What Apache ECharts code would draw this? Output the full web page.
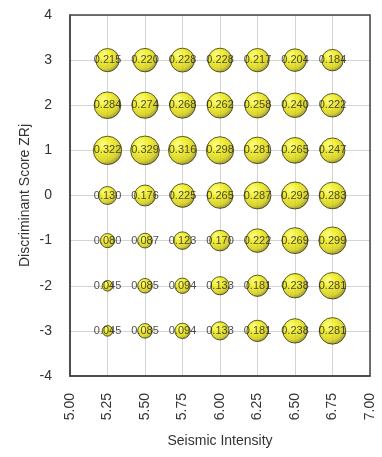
<!DOCTYPE html>
<html>
<head>
<meta charset="utf-8">
<script src="https://cdn.jsdelivr.net/npm/echarts@6/dist/echarts.min.js"></script>
<style>
  html, body { margin: 0; padding: 0; background: #fff; }
  #chart { width: 382px; height: 457px; }
</style>
</head>
<body>
<div id="chart"></div>
<script>
// Seismic intensity columns and discriminant score rows
const intensities = [5.25, 5.5, 5.75, 6.0, 6.25, 6.5, 6.75];
const scores = [3, 2, 1, 0, -1, -2, -3];

// Probability values, one array per discriminant score row
const row3 = [0.215, 0.220, 0.228, 0.228, 0.217, 0.204, 0.184];
const row2 = [0.284, 0.274, 0.268, 0.262, 0.258, 0.240, 0.222];
const row1 = [0.322, 0.329, 0.316, 0.298, 0.281, 0.265, 0.247];
const row0 = [0.130, 0.176, 0.225, 0.265, 0.287, 0.292, 0.283];
const rowM1 = [0.080, 0.087, 0.123, 0.170, 0.222, 0.269, 0.299];
const rowM2 = [0.045, 0.085, 0.094, 0.133, 0.181, 0.238, 0.281];
const rowM3 = [0.045, 0.085, 0.094, 0.133, 0.181, 0.238, 0.281];

const rows = [row3, row2, row1, row0, rowM1, rowM2, rowM3];

const points = [];
rows.forEach((vals, r) => {
  vals.forEach((v, c) => points.push([intensities[c], scores[r], v]));
});

const chart = echarts.init(document.getElementById('chart'));
const font = 'Liberation Sans, Arial, sans-serif';

chart.setOption({
  animation: false,
  grid: { left: 70, right: 12, top: 15, bottom: 81 },
  xAxis: {
    type: 'value', min: 5, max: 7, interval: 0.25,
    name: 'Seismic Intensity', nameLocation: 'middle', nameGap: 58,
    nameMoveOverlap: false,
    nameTextStyle: { fontFamily: font, fontSize: 14, color: '#333' },
    axisLine: { show: true, onZero: false, lineStyle: { color: '#444', width: 1.5 } },
    axisTick: { show: false },
    axisLabel: {
      rotate: 90, fontFamily: font, fontSize: 14, color: '#333', margin: 17,
      formatter: v => v.toFixed(2)
    },
    splitLine: { show: true, lineStyle: { color: '#d4d4d4', width: 1 } }
  },
  yAxis: {
    type: 'value', min: -4, max: 4, interval: 1,
    name: 'Discriminant Score ZRj', nameLocation: 'middle', nameGap: 38,
    nameMoveOverlap: false,
    nameTextStyle: { fontFamily: font, fontSize: 14, color: '#333' },
    axisLine: { show: true, onZero: false, lineStyle: { color: '#444', width: 1.5 } },
    axisTick: { show: false },
    axisLabel: { fontFamily: font, fontSize: 14, color: '#333', margin: 18 },
    splitLine: { show: true, lineStyle: { color: '#d4d4d4', width: 1 } }
  },
  graphic: [{
    type: 'rect', silent: true, z: 10,
    shape: { x: 70, y: 15, width: 300, height: 361 },
    style: { fill: 'none', stroke: '#444', lineWidth: 1.5 }
  }],
  series: [{
    type: 'scatter',
    data: points,
    symbolSize: d => 50 * Math.sqrt(d[2]),
    itemStyle: {
      color: new echarts.graphic.RadialGradient(0.36, 0.3, 0.75, [
        { offset: 0, color: '#ffff66' },
        { offset: 0.35, color: '#eeea08' },
        { offset: 0.75, color: '#cfc800' },
        { offset: 1, color: '#76720a' }
      ]),
      borderColor: '#34340f',
      borderWidth: 1
    },
    label: {
      show: true, position: 'inside',
      fontFamily: font, fontSize: 11, color: '#222',
      formatter: p => p.value[2].toFixed(3)
    }
  }]
});
</script>
</body>
</html>
